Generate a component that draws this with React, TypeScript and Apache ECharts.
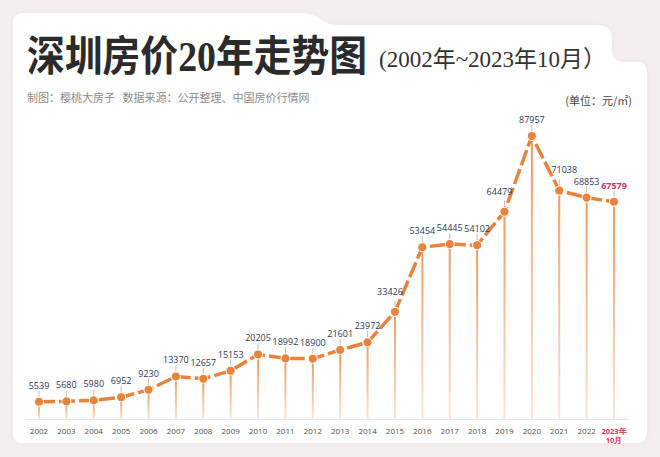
import React, { useEffect, useRef } from "react";
import * as echarts from "echarts";

const years = [
  "2002", "2003", "2004", "2005", "2006", "2007", "2008", "2009", "2010", "2011", "2012",
  "2013", "2014", "2015", "2016", "2017", "2018", "2019", "2020", "2021", "2022", "2023年\n10月",
];
const prices = [
  5539, 5680, 5980, 6952, 9230, 13370, 12657, 15153, 20205, 18992, 18900,
  21601, 23972, 33426, 53454, 54445, 54102, 64479, 87957, 71038, 68853, 67579,
];
const titleText = "深圳房价20年走势图";
const subtitleText = "(2002年~2023年10月）";
const creditText = "制图：樱桃大房子   数据来源：公开整理、中国房价行情网";
const unitText = "(单位：元/㎡)";

const cardPath =
  "M23 13 L300 13 C322 13 318 25 340 25 L598 25 Q612 25 612 39 L612 50 Q612 62 624 62 L637 62 Q647 62 647 72 L647 433 Q647 443 637 443 L23 443 Q13 443 13 433 L13 23 Q13 13 23 13 Z";
echarts.graphic.registerShape("cardShape", echarts.graphic.extendPath(cardPath, {}));

const ORANGE = "#e9823b";
const RED = "#d6315f";
const lastIdx = prices.length - 1;
const labelShift: Record<number, number[]> = { 13: [-5, -4], 17: [-5, -4], 19: [5, -5] };

export default function App() {
  const ref = useRef<HTMLDivElement>(null);
  useEffect(() => {
    document.body.style.margin = "0";
    const chart = echarts.init(ref.current as HTMLDivElement, null, { renderer: "svg" });
    const lineData = prices.map((v, i) => {
      const item: any = { value: v };
      if (labelShift[i]) item.label = { offset: labelShift[i] };
      if (i === lastIdx) item.label = { color: RED, fontWeight: "bold" };
      return item;
    });
    chart.setOption({
      animation: false,
      backgroundColor: "#f3eded",
      graphic: [
        {
          type: "cardShape",
          x: 0,
          y: 0,
          z: -10,
          silent: true,
          style: { fill: "#ffffff", shadowBlur: 4, shadowColor: "rgba(0,0,0,0.04)" },
        },
        {
          type: "text",
          x: 27,
          y: 57,
          scaleX: 0.9,
          style: {
            text: titleText,
            font: 'bold 42px "Liberation Serif", "Noto Sans CJK SC"',
            fill: "#2b2b2b",
            verticalAlign: "middle",
          },
        },
        {
          type: "text",
          x: 379,
          y: 59,
          style: {
            text: subtitleText,
            font: '23px "Liberation Serif", "Noto Sans CJK SC"',
            fill: "#333333",
            verticalAlign: "middle",
          },
        },
        {
          type: "text",
          x: 27,
          y: 97,
          style: {
            text: creditText,
            font: '11px "Noto Sans CJK SC"',
            fill: "#8c8c8c",
            verticalAlign: "middle",
          },
        },
        {
          type: "text",
          x: 632,
          y: 100,
          style: {
            text: unitText,
            font: '11px "Noto Sans CJK SC"',
            fill: "#444444",
            align: "right",
            verticalAlign: "middle",
          },
        },
      ],
      grid: { left: 25.3, right: 32.3, top: 97.2, bottom: 37.4, containLabel: false },
      xAxis: {
        type: "category",
        data: years,
        boundaryGap: true,
        axisLine: { lineStyle: { color: "#e2e2e2", width: 1 } },
        axisTick: { show: false },
        axisLabel: {
          margin: 7,
          fontSize: 8,
          fontFamily: "Open Sans",
          color: "#505050",
          interval: 0,
          formatter: (v: string, i: number) =>
            i === lastIdx ? v.split("\n").map((s) => `{hl|${s}}`).join("\n") : v,
          rich: {
            hl: { color: RED, fontWeight: "bold", fontSize: 7.5, lineHeight: 9, fontFamily: "Open Sans" },
          },
        },
      },
      yAxis: {
        type: "value",
        min: 0,
        max: 100000,
        show: false,
        splitLine: { show: false },
      },
      series: [
        {
          type: "bar",
          data: prices,
          barWidth: 2,
          silent: true,
          z: 1,
          itemStyle: {
            color: new echarts.graphic.LinearGradient(0, 0, 0, 1, [
              { offset: 0, color: "#ec9a5e" },
              { offset: 1, color: "#fbe6d8" },
            ]),
          },
        },
        {
          type: "scatter",
          data: prices,
          symbol: "rect",
          symbolSize: [1, 6],
          symbolOffset: [0, -8],
          silent: true,
          z: 2,
          itemStyle: { color: "#b5aca6" },
        },
        {
          type: "line",
          data: lineData,
          z: 3,
          symbol: "circle",
          symbolSize: 9,
          itemStyle: { color: ORANGE, borderColor: "#ffffff", borderWidth: 1 },
          lineStyle: { color: ORANGE, width: 3.5, type: [16, 4] },
          label: {
            show: true,
            position: "top",
            distance: 7,
            fontSize: 9,
            fontFamily: "Open Sans",
            color: "#2d3b55",
          },
        },
      ],
    });
    return () => chart.dispose();
  }, []);
  return <div ref={ref} style={{ width: 660, height: 457 }} />;
}
